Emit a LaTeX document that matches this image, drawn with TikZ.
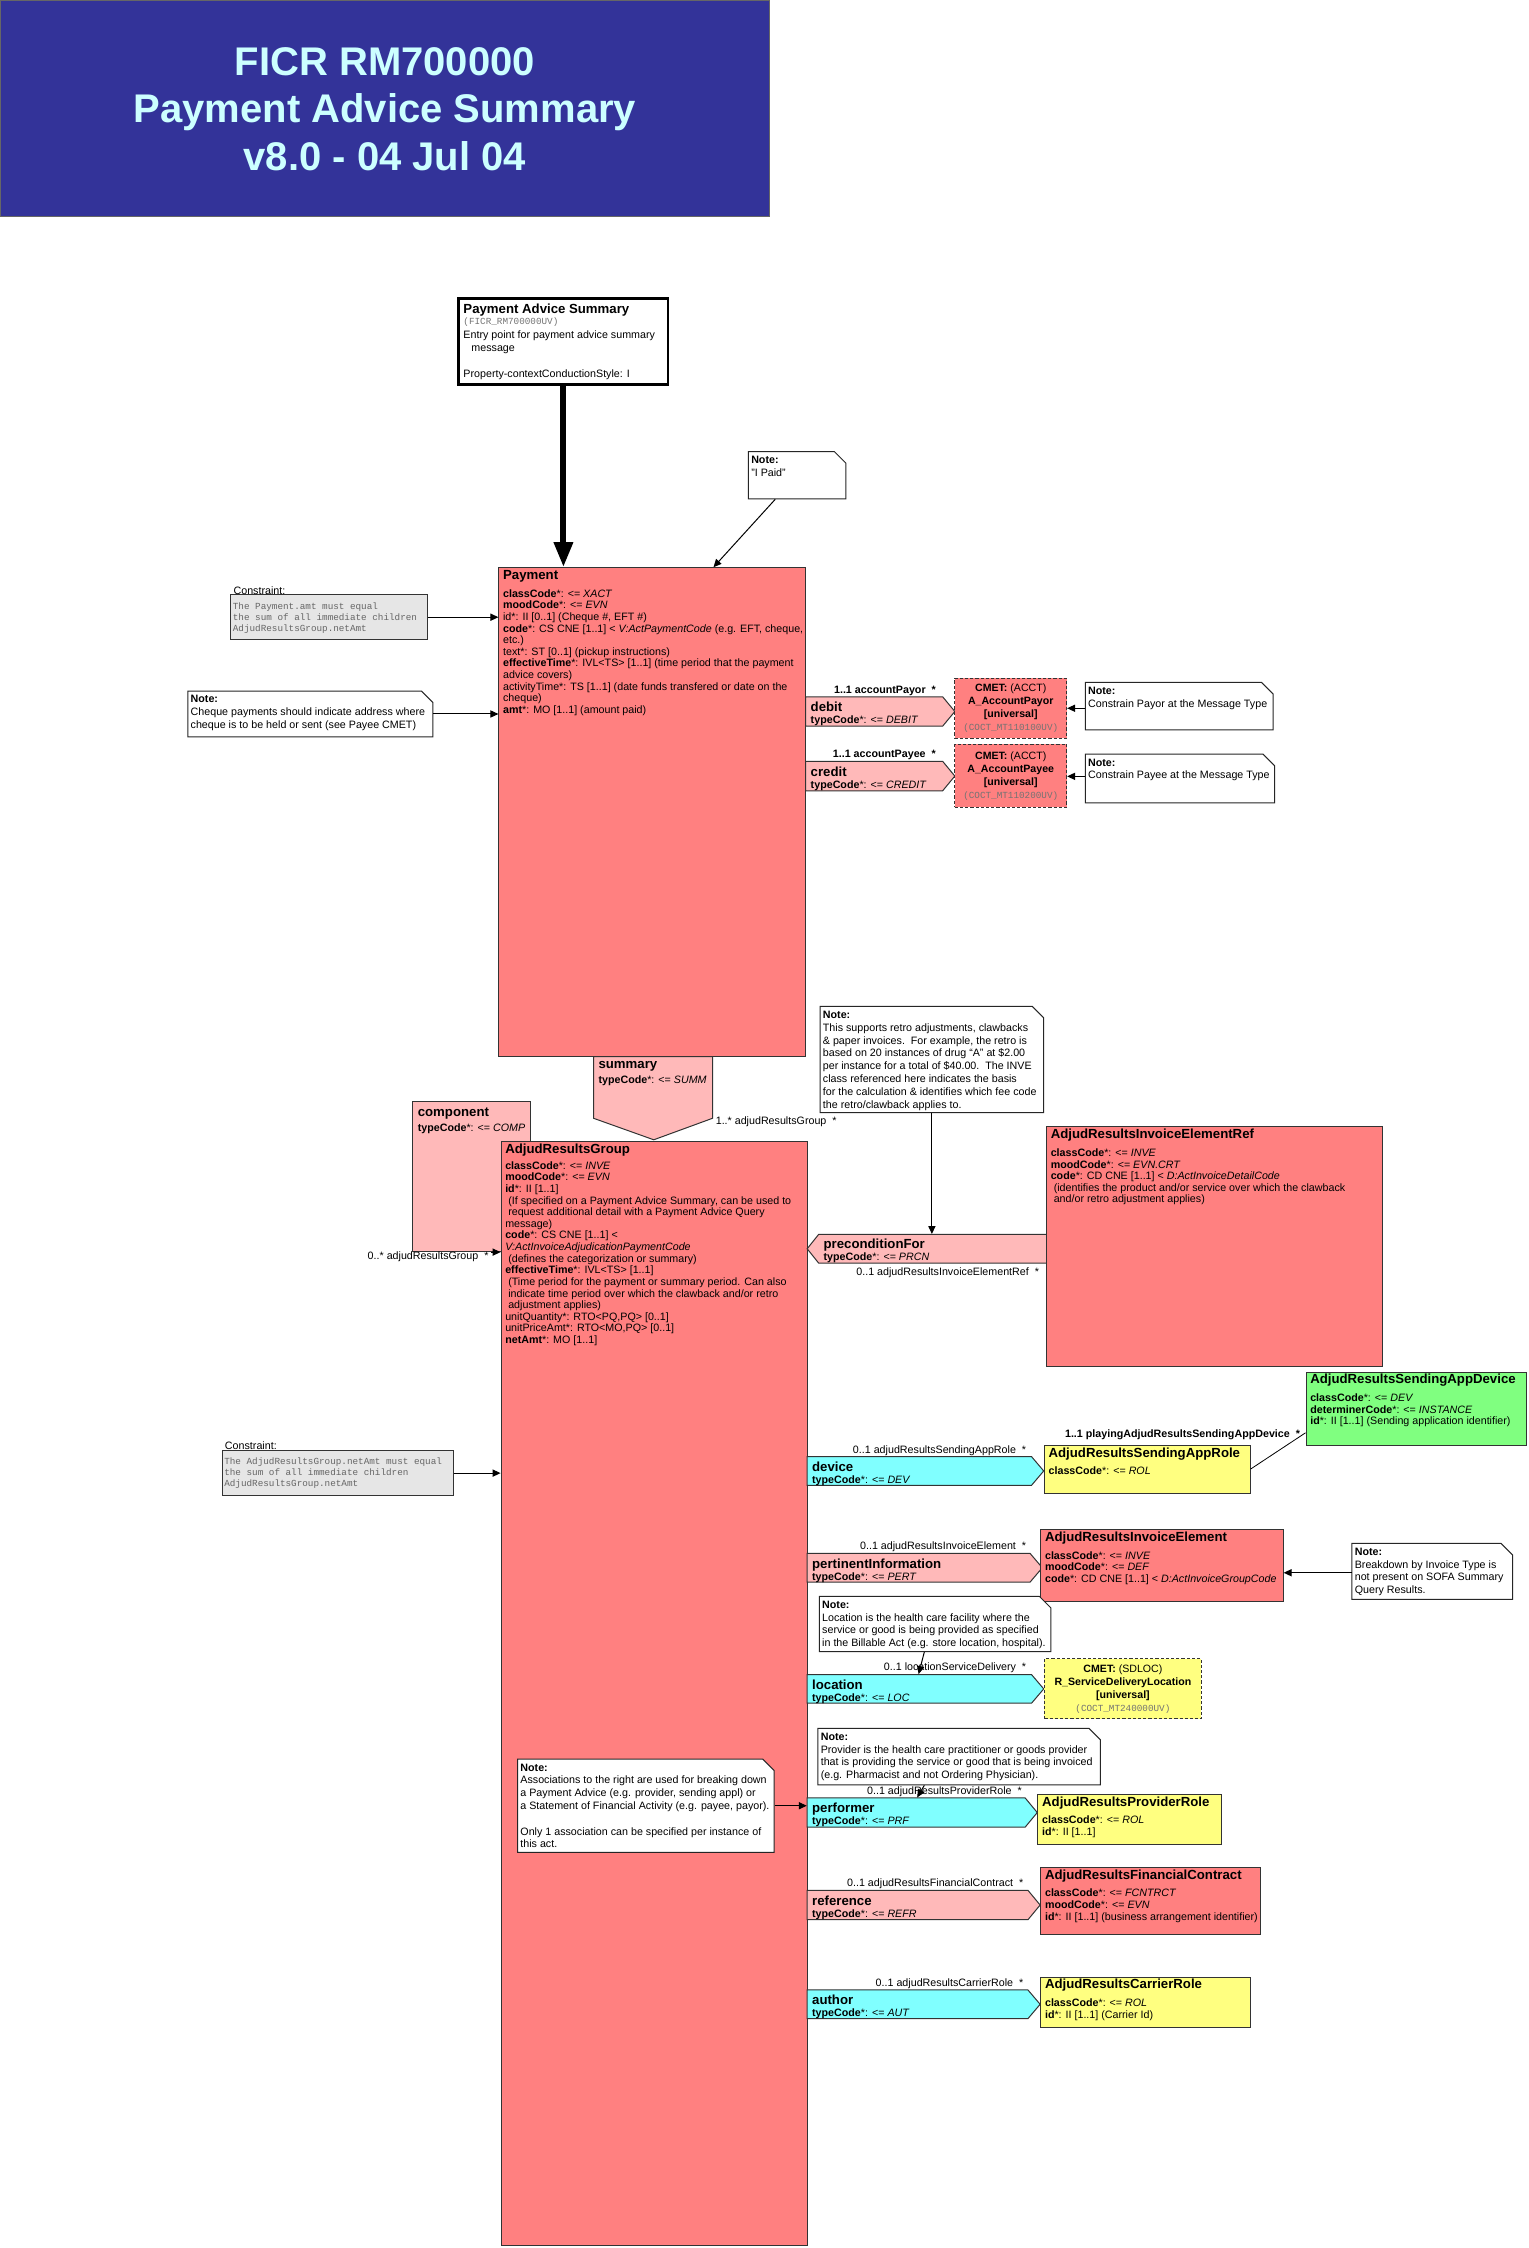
\documentclass[tikz,border=0pt]{standalone}
\usepackage{fontspec}
\setmainfont{Liberation Sans}
\setmonofont{Liberation Mono}
\usetikzlibrary{arrows.meta,calc,fit}
\definecolor{salmon}{HTML}{FF8080}
\definecolor{pinkA}{HTML}{FFB9B9}
\definecolor{cyanA}{HTML}{80FFFF}
\definecolor{yelA}{HTML}{FFFF80}
\definecolor{grnA}{HTML}{80FF80}
\definecolor{cgray}{HTML}{E6E6E6}
\definecolor{navyA}{HTML}{333399}
\definecolor{titleC}{HTML}{CCFFFF}
\newcommand\fBody{\fontsize{5.35}{5.8}\selectfont}
\newcommand\fNote{\fontsize{5.35}{6.4}\selectfont}
\newcommand\fTtl{\bfseries\fontsize{6.6}{7.5}\selectfont}
\newcommand\fMono{\ttfamily\fontsize{4.65}{5.5}\selectfont}
\tikzset{
  clsb/.style={draw=black!80, line width=0.5pt, inner sep=0pt},
  assoc/.style={draw=black!80, line width=0.5pt},
  noteb/.style={draw=black!85, line width=0.5pt, fill=white},
  tx/.style={anchor=north west, inner sep=0pt, align=left},
  lab/.style={anchor=base east, inner sep=0pt, font=\fBody},
  conn/.style={draw=black, line width=0.5pt, -{Triangle[length=4pt,width=3.6pt]}},
  cmetb/.style={draw=black!80, line width=0.5pt, dash pattern=on 1.6pt off 1pt, inner sep=0pt},
  cmett/.style={inner sep=0pt, align=center, font=\fontsize{5.3}{6.5}\selectfont},
}
\newcommand\clsbox[6]{\node[clsb, fill=#2, fit={(#3,#4) (#5,#6)}] (#1) {};}
\newcommand\clstitle[2]{\node[tx, font=\fTtl] (#1-t) at ($(#1.north west)+(3,1.7)$) {#2};}
\newcommand\clsbody[2]{\node[tx, font=\fBody] (#1-b) at ($(#1.north west)+(3,15.3)$) {#2};}
\newcommand\ascR[6]{%
  \draw[assoc, fill=#2] (#3,#4) -- ({#5-8.5},#4) -- (#5,{(#4+#6)/2}) -- ({#5-8.5},#6) -- (#3,#6) -- cycle;
  \node[fit={(#3,#4) (#5,#6)}, inner sep=0pt] (#1) {};}
\newcommand\asctext[4]{%
  \node[tx, font=\fTtl] (#1-t) at ($(#1.north west)+(#4,3.6)$) {#2};
  \node[tx, font=\fBody] (#1-c) at ($(#1.north west)+(#4,13.3)$) {\textbf{typeCode}*: <= \textit{#3}};}
\newcommand\notebox[5]{%
  \draw[noteb] (#2,#3) -- ({#4-8},#3) -- (#4,{#3+8}) -- (#4,#5) -- (#2,#5) -- cycle;
  \node[fit={(#2,#3) (#4,#5)}, inner sep=0pt] (#1) {};}
\newcommand\notetext[2]{\node[tx, font=\fNote] (#1-x) at ($(#1.north west)+(2,3.2)$) {\textbf{Note:}\\#2};}
\begin{document}
\begin{tikzpicture}[x=0.7167pt, y=-0.7167pt]
\useasboundingbox (0,0) rectangle (1066,1568);

% ---- title
\node[fit={(0.5,0.5) (537,151)}, inner sep=0pt, draw=black!60, fill=navyA, line width=0.6pt] (title) {};
\node[inner sep=0pt, align=center, text=titleC, font=\bfseries\fontsize{20}{23.7}\selectfont] (title-t) at (268.5,76) {FICR RM700000\\Payment Advice Summary\\v8.0 - 04 Jul 04};

% ---- entry point
\node[fit={(320,208) (466,268)}, inner sep=0pt, draw=black, line width=1.3pt, fill=white] (pas) {};
\node[tx, font=\fBody] (pas-t) at (323,212) {{\fTtl Payment Advice Summary}\\[-0.6pt]
{\fMono\color{black!55}(FICR\_RM700000UV)}\\[1.5pt]
Entry point for payment advice summary\\[0.6pt]
\hspace*{4pt}message\\[7.1pt]
Property-contextConductionStyle: I};

% ---- Payment
\clsbox{pay}{salmon}{348}{396}{562}{737}
\clstitle{pay}{Payment}
\clsbody{pay}{\textbf{classCode}*: <= \textit{XACT}\\
\textbf{moodCode}*: <= \textit{EVN}\\
id*: II [0..1] (Cheque \#, EFT \#)\\
\textbf{code}*: CS CNE [1..1] < \textit{V:ActPaymentCode} (e.g. EFT, cheque,\\
etc.)\\
text*: ST [0..1] (pickup instructions)\\
\textbf{effectiveTime}*: IVL<TS> [1..1] (time period that the payment\\
advice covers)\\
activityTime*: TS [1..1] (date funds transfered or date on the\\
cheque)\\
\textbf{amt}*: MO [1..1] (amount paid)}

\draw[line width=3pt, -{Triangle[length=12.5pt,width=9pt]}] (pas.south) -- (pas.south |- pay.north);

% note I Paid
\notebox{nPaid}{522}{315}{590}{348}
\notetext{nPaid}{"I Paid"}
\draw[conn] ($(nPaid.south west)+(19,0)$) -- ($(pay.north west)+(150,0)$);

% constraint 1
\node[fit={(161,415) (298,446)}, inner sep=0pt, draw=black!80, line width=0.5pt, fill=cgray] (con1) {};
\node[anchor=base west, inner sep=0pt, font=\fBody] (con1-l) at ($(con1.north west)+(2,-0.3)$) {Constraint:};
\node[tx, font=\fMono, text=black!60] (con1-x) at ($(con1.north west)+(1.5,5.2)$) {The Payment.amt must equal\\the sum of all immediate children\\AdjudResultsGroup.netAmt};
\draw[conn] (con1.east) -- (con1.east -| pay.west);

% note cheque
\notebox{nChq}{131}{482}{302}{514}
\notetext{nChq}{Cheque payments should indicate address where\\cheque is to be held or sent (see Payee CMET)}
\draw[conn] (nChq.east) -- (nChq.east -| pay.west);

% debit / credit
\ascR{debit}{pinkA}{562}{486}{666}{506.5}
\asctext{debit}{debit}{DEBIT}{3.5}
\node[lab, font=\bfseries\fBody] (debit-l) at (653,483.5) {1..1 accountPayor~~*};
\node[cmetb, fill=salmon, fit={(666,473) (744,515)}] (cmPayor) {};
\node[cmett] (cmPayor-t) at (cmPayor) {\textbf{CMET:} (ACCT)\\\textbf{A\_AccountPayor}\\\textbf{[universal]}\\{\fMono\color{black!55}(COCT\_MT110100UV)}};
\notebox{nPayor}{757}{476}{888}{509}
\notetext{nPayor}{Constrain Payor at the Message Type}
\draw[conn] ($(nPayor.west)+(0,1.5)$) -- ($(nPayor.west -| cmPayor.east)+(0,1.5)$);

\ascR{credit}{pinkA}{562}{531}{666}{551.6}
\asctext{credit}{credit}{CREDIT}{3.5}
\node[lab, font=\bfseries\fBody] (credit-l) at (653,528.5) {1..1 accountPayee~~*};
\node[cmetb, fill=salmon, fit={(666,519) (744,563)}] (cmPayee) {};
\node[cmett] (cmPayee-t) at (cmPayee) {\textbf{CMET:} (ACCT)\\\textbf{A\_AccountPayee}\\\textbf{[universal]}\\{\fMono\color{black!55}(COCT\_MT110200UV)}};
\notebox{nPayee}{757}{526}{889}{560}
\notetext{nPayee}{Constrain Payee at the Message Type}
\draw[conn] ($(nPayee.west)+(0,-1.5)$) -- ($(nPayee.west -| cmPayee.east)+(0,-1.5)$);

% summary
\draw[assoc, fill=pinkA] (414,737) -- (497,737) -- (497,780) -- (456,795) -- (414,780) -- cycle;
\node[fit={(414,737) (497,795)}, inner sep=0pt] (summ) {};
\asctext{summ}{summary}{SUMM}{3.5}
\node[anchor=base west, inner sep=0pt, font=\fBody] (summ-l) at (499,784.5) {1..* adjudResultsGroup~~*};

% component
\clsbox{comp}{pinkA}{288}{768}{370}{873}
\node[tx, font=\fTtl] (comp-t) at ($(comp.north west)+(3.5,5)$) {component};
\node[tx, font=\fBody] (comp-c) at ($(comp.north west)+(3.5,15.8)$) {\textbf{typeCode}*: <= \textit{COMP}};

% AdjudResultsGroup
\clsbox{arg}{salmon}{349.5}{796}{563}{1566}
\clstitle{arg}{AdjudResultsGroup}
\node[tx, font=\fBody] (arg-b) at ($(arg.north west)+(3,14.3)$) {\textbf{classCode}*: <= \textit{INVE}\\
\textbf{moodCode}*: <= \textit{EVN}\\
\textbf{id}*: II [1..1]\\
\hspace*{1.5pt}(If specified on a Payment Advice Summary, can be used to\\
\hspace*{1.5pt}request additional detail with a Payment Advice Query\\
message)\\
\textbf{code}*: CS CNE [1..1] <\\
\textit{V:ActInvoiceAdjudicationPaymentCode}\\
\hspace*{1.5pt}(defines the categorization or summary)\\
\textbf{effectiveTime}*: IVL<TS> [1..1]\\
\hspace*{1.5pt}(Time period for the payment or summary period. Can also\\
\hspace*{1.5pt}indicate time period over which the clawback and/or retro\\
\hspace*{1.5pt}adjustment applies)\\
unitQuantity*: RTO<PQ,PQ> [0..1]\\
unitPriceAmt*: RTO<MO,PQ> [0..1]\\
\textbf{netAmt}*: MO [1..1]};
\draw[conn] ($(comp.south east)+(-28,0)$) -- (comp.south east -| arg.west);
\node[lab] (comp-l) at (341,878.5) {0..* adjudResultsGroup~~*};

% constraint 2
\node[fit={(155,1012) (316,1043)}, inner sep=0pt, draw=black!80, line width=0.5pt, fill=cgray] (con2) {};
\node[anchor=base west, inner sep=0pt, font=\fBody] (con2-l) at ($(con2.north west)+(2,-0.3)$) {Constraint:};
\node[tx, font=\fMono, text=black!60] (con2-x) at ($(con2.north west)+(1.5,5.2)$) {The AdjudResultsGroup.netAmt must equal\\the sum of all immediate children\\AdjudResultsGroup.netAmt};
\draw[conn] (con2.east) -- (con2.east -| arg.west);

% note retro
\notebox{nRetro}{572}{702}{728}{776}
\notetext{nRetro}{This supports retro adjustments, clawbacks\\
\& paper invoices.\ \ For example, the retro is\\
based on 20 instances of drug “A” at \$2.00\\
per instance for a total of \$40.00.\ \ The INVE\\
class referenced here indicates the basis\\
for the calculation \& identifies which fee code\\
the retro/clawback applies to.}

% preconditionFor (points left)
\draw[assoc, fill=pinkA] (730,861) -- (571,861) -- (563,871) -- (571,881) -- (730,881) -- cycle;
\node[fit={(563,861) (730,881)}, inner sep=0pt] (prec) {};
\node[tx, font=\fTtl] (prec-t) at ($(prec.north west)+(11.5,3.4)$) {preconditionFor};
\node[tx, font=\fBody] (prec-c) at ($(prec.north west)+(11.5,12.6)$) {\textbf{typeCode}*: <= \textit{PRCN}};
\node[lab] (prec-l) at (725,889.5) {0..1 adjudResultsInvoiceElementRef~~*};
\draw[conn] (nRetro.south) -- (nRetro.south |- prec.north);

% AdjudResultsInvoiceElementRef
\clsbox{arier}{salmon}{730}{786}{964}{953}
\clstitle{arier}{AdjudResultsInvoiceElementRef}
\clsbody{arier}{\textbf{classCode}*: <= \textit{INVE}\\
\textbf{moodCode}*: <= \textit{EVN.CRT}\\
\textbf{code}*: CD CNE [1..1] < \textit{D:ActInvoiceDetailCode}\\
\hspace*{1.5pt}(identifies the product and/or service over which the clawback\\
\hspace*{1.5pt}and/or retro adjustment applies)}

% device
\ascR{dev}{cyanA}{563}{1016}{728}{1036}
\asctext{dev}{device}{DEV}{3.5}
\node[lab] (dev-l) at (716,1013.5) {0..1 adjudResultsSendingAppRole~~*};
\clsbox{arsar}{yelA}{728.5}{1008}{872}{1041.5}
\clstitle{arsar}{AdjudResultsSendingAppRole}
\clsbody{arsar}{\textbf{classCode}*: <= \textit{ROL}}
\clsbox{grn}{grnA}{911}{957}{1065}{1008}
\clstitle{grn}{AdjudResultsSendingAppDevice}
\clsbody{grn}{\textbf{classCode}*: <= \textit{DEV}\\
\textbf{determinerCode}*: <= \textit{INSTANCE}\\
\textbf{id}*: II [1..1] (Sending application identifier)}
\draw[line width=0.4pt] ($(arsar.north east)+(0,17)$) -- ($(grn.south west)+(0,-9)$);
\node[lab, font=\bfseries\fBody] (grn-l) at (907,1002.5) {1..1 playingAdjudResultsSendingAppDevice~~*};

% pertinentInformation
\ascR{pert}{pinkA}{563}{1083.5}{727}{1103.5}
\asctext{pert}{pertinentInformation}{PERT}{3.5}
\node[lab] (pert-l) at (716,1080.5) {0..1 adjudResultsInvoiceElement~~*};
\clsbox{arie}{salmon}{726}{1067}{895}{1117}
\clstitle{arie}{AdjudResultsInvoiceElement}
\clsbody{arie}{\textbf{classCode}*: <= \textit{INVE}\\
\textbf{moodCode}*: <= \textit{DEF}\\
\textbf{code}*: CD CNE [1..1] < \textit{D:ActInvoiceGroupCode}}
\notebox{nBrk}{943}{1076.5}{1055}{1115.5}
\notetext{nBrk}{Breakdown by Invoice Type is\\not present on SOFA Summary\\Query Results.}
\draw[conn] ($(nBrk.west)+(0,1)$) -- ($(nBrk.west -| arie.east)+(0,1)$);

% location
\notebox{nLoc}{571.5}{1113.5}{733}{1152}
\notetext{nLoc}{Location is the health care facility where the\\service or good is being provided as specified\\in the Billable Act (e.g. store location, hospital).}
\ascR{loc}{cyanA}{563}{1168}{728}{1188}
\asctext{loc}{location}{LOC}{3.5}
\node[lab] (loc-l) at (716,1165) {0..1 locationServiceDelivery~~*};
\draw[conn] ($(nLoc.south west)+(73.5,0)$) -- ($(loc.north west)+(78,0)$);
\node[cmetb, fill=yelA, fit={(728.5,1157) (838,1199)}] (sdloc) {};
\node[cmett] (sdloc-t) at (sdloc) {\textbf{CMET:} (SDLOC)\\\textbf{R\_ServiceDeliveryLocation}\\\textbf{[universal]}\\{\fMono\color{black!55}(COCT\_MT240000UV)}};

% performer
\notebox{nProv}{570.5}{1205.5}{767.5}{1245}
\notetext{nProv}{Provider is the health care practitioner or goods provider\\that is providing the service or good that is being invoiced\\(e.g. Pharmacist and not Ordering Physician).}
\ascR{perf}{cyanA}{563}{1254}{723.5}{1274.5}
\asctext{perf}{performer}{PRF}{3.5}
\node[lab] (perf-l) at (713,1251.5) {0..1 adjudResultsProviderRole~~*};
\draw[conn] ($(nProv.south west)+(74.5,0)$) -- ($(perf.north west)+(77,0)$);
\clsbox{arpr}{yelA}{724}{1251.5}{852}{1286.5}
\clstitle{arpr}{AdjudResultsProviderRole}
\clsbody{arpr}{\textbf{classCode}*: <= \textit{ROL}\\
\textbf{id}*: II [1..1]}

% note associations
\notebox{nAssoc}{361}{1227}{540}{1292}
\notetext{nAssoc}{Associations to the right are used for breaking down\\
a Payment Advice (e.g. provider, sending appl) or\\
a Statement of Financial Activity (e.g. payee, payor).\\[6.4pt]
Only 1 association can be specified per instance of\\
this act.}
\draw[conn] (nAssoc.east) -- (nAssoc.east -| perf.west);

% reference
\ascR{refr}{pinkA}{563}{1318.5}{725.5}{1339}
\asctext{refr}{reference}{REFR}{3.5}
\node[lab] (refr-l) at (714,1316) {0..1 adjudResultsFinancialContract~~*};
\clsbox{arfc}{salmon}{726}{1302.5}{879.5}{1349}
\clstitle{arfc}{AdjudResultsFinancialContract}
\clsbody{arfc}{\textbf{classCode}*: <= \textit{FCNTRCT}\\
\textbf{moodCode}*: <= \textit{EVN}\\
\textbf{id}*: II [1..1] (business arrangement identifier)}

% author
\ascR{auth}{cyanA}{563}{1388}{725.5}{1408}
\asctext{auth}{author}{AUT}{3.5}
\node[lab] (auth-l) at (714,1385.5) {0..1 adjudResultsCarrierRole~~*};
\clsbox{arcr}{yelA}{726}{1379}{872.5}{1414}
\clstitle{arcr}{AdjudResultsCarrierRole}
\clsbody{arcr}{\textbf{classCode}*: <= \textit{ROL}\\
\textbf{id}*: II [1..1] (Carrier Id)}
\end{tikzpicture}
\end{document}
